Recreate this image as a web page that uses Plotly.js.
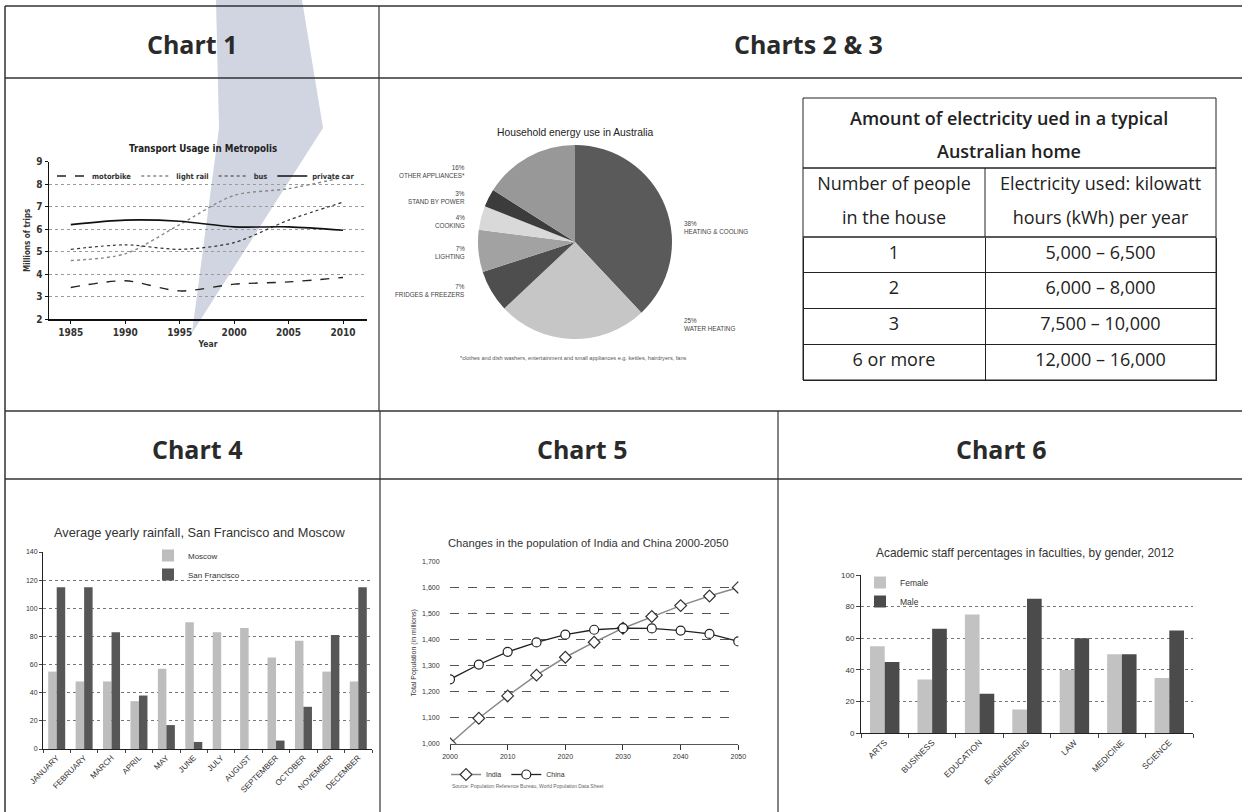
<!DOCTYPE html>
<html>
<head>
<meta charset="utf-8">
<script src="https://cdn.plot.ly/plotly-3.0.1.min.js"></script>
<style>
  html, body { margin: 0; padding: 0; background: #ffffff; }
  #chart { width: 1242px; height: 812px; }
</style>
</head>
<body>
<div id="chart"></div>
<script>
// ---------------- DATA ----------------
// Chart 1: Transport Usage in Metropolis (millions of trips)
const c1Years = [1985, 1990, 1995, 2000, 2005, 2010];
const c1Motorbike = [3.4, 3.7, 3.25, 3.55, 3.65, 3.85];
const c1LightRail = [4.6, 4.9, 6.2, 7.5, 7.8, 8.3];
const c1Bus = [5.1, 5.3, 5.1, 5.4, 6.4, 7.2];
const c1PrivateCar = [6.2, 6.4, 6.35, 6.1, 6.1, 5.95];
const c1SeriesNames = ['motorbike', 'light rail', 'bus', 'private car'];

// Chart 2: Household energy use in Australia (%)
const pieLabels = ['HEATING & COOLING', 'WATER HEATING', 'FRIDGES & FREEZERS', 'LIGHTING', 'COOKING', 'STAND BY POWER', 'OTHER APPLIANCES*'];
const pieValues = [38, 25, 7, 7, 4, 3, 16];
const pieFootnote = '*clothes and dish washers, entertainment and small appliances e.g. kettles, hairdryers, fans';

// Chart 3: table
const tableTitle = ['Amount of electricity ued in a typical', 'Australian home'];
const tableHeaders = [['Number of people', 'in the house'], ['Electricity used: kilowatt', 'hours (kWh) per year']];
const tablePeople = ['1', '2', '3', '6 or more'];
const tableKwh = ['5,000 – 6,500', '6,000 – 8,000', '7,500 – 10,000', '12,000 – 16,000'];

// Chart 4: Average yearly rainfall (mm)
const months = ['JANUARY', 'FEBRUARY', 'MARCH', 'APRIL', 'MAY', 'JUNE', 'JULY', 'AUGUST', 'SEPTEMBER', 'OCTOBER', 'NOVEMBER', 'DECEMBER'];
const rainMoscow = [55, 48, 48, 34, 57, 90, 83, 86, 65, 77, 55, 48];
const rainSanFrancisco = [115, 115, 83, 38, 17, 5, 0, 0, 6, 30, 81, 115];

// Chart 5: Population of India and China (millions)
const popYears = [2000, 2005, 2010, 2015, 2020, 2025, 2030, 2035, 2040, 2045, 2050];
const popIndia = [1000, 1098, 1184, 1264, 1333, 1391, 1445, 1490, 1532, 1569, 1602];
const popChina = [1248, 1305, 1354, 1390, 1420, 1439, 1445, 1444, 1436, 1423, 1394];
const popSource = 'Source: Population Reference Bureau, World Population Data Sheet';

// Chart 6: Academic staff percentages by gender, 2012
const faculties = ['ARTS', 'BUSINESS', 'EDUCATION', 'ENGINEERING', 'LAW', 'MEDICINE', 'SCIENCE'];
const staffFemale = [55, 34, 75, 15, 40, 50, 35];
const staffMale = [45, 66, 25, 85, 60, 50, 65];

// ---------------- LAYOUT HELPERS ----------------
const W = 1242, H = 812;
const px = x => x / W;
const py = y => 1 - y / H;
const SANS = 'Liberation Sans, Arial, sans-serif';
const NARROW = 'Liberation Sans Narrow, DejaVu Sans Condensed, Liberation Sans, sans-serif';
const HEAD = 'Open Sans, Noto Sans, sans-serif';
const INK = '#222222';

function ann(text, x, y, font, extra) {
  return Object.assign({
    text: text, x: px(x), y: py(y), xref: 'paper', yref: 'paper',
    showarrow: false, xanchor: 'center', yanchor: 'middle', font: font
  }, extra || {});
}
function line(x0, y0, x1, y1, color, width, dash) {
  return { type: 'line', xref: 'paper', yref: 'paper', x0: px(x0), y0: py(y0), x1: px(x1), y1: py(y1),
    line: { color: color, width: width, dash: dash || 'solid' } };
}
function rect(x0, y0, x1, y1, color, width) {
  return { type: 'rect', xref: 'paper', yref: 'paper', x0: px(x0), y0: py(y0), x1: px(x1), y1: py(y1),
    line: { color: color, width: width }, fillcolor: 'rgba(0,0,0,0)' };
}
function pathOf(points) {
  return points.map((p, i) => (i ? 'L ' : 'M ') + px(p[0]) + ',' + py(p[1])).join(' ') + ' Z';
}

// ---------------- TRACES ----------------
const traces = [];

// Chart 1
const c1Values = [c1Motorbike, c1LightRail, c1Bus, c1PrivateCar];
const c1Styles = [
  { color: '#222', dash: 'dash', width: 1.4 },
  { color: '#888', dash: 'dot', width: 1.4 },
  { color: '#333', dash: 'dot', width: 1.2 },
  { color: '#111', dash: 'solid', width: 1.6 }
];
c1Values.forEach((vals, i) => {
  traces.push({
    type: 'scatter', mode: 'lines', x: c1Years, y: vals, name: c1SeriesNames[i],
    line: Object.assign({ shape: 'spline', smoothing: 0.8 }, c1Styles[i]),
    xaxis: 'x', yaxis: 'y', legend: 'legend'
  });
});

// Chart 2 pie
const pieColors = ['#5a5a5a', '#c6c6c6', '#4e4e4e', '#a2a2a2', '#d9d9d9', '#3c3c3c', '#989898'];
traces.push({
  type: 'pie', labels: pieLabels, values: pieValues, sort: false, direction: 'clockwise', rotation: 0,
  textinfo: 'none', showlegend: false, hoverinfo: 'label+percent',
  marker: { colors: pieColors, line: { width: 0 } },
  domain: { x: [px(478), px(672)], y: [py(339), py(145)] }
});

// Chart 3 table (two header rows; outer header borders drawn as shapes)
const tableFont = { family: HEAD, size: 18, color: INK };
traces.push({
  type: 'table',
  domain: { x: [px(803), px(1216)], y: [py(381), py(168)] },
  columnwidth: [182, 231],
  header: {
    values: tableHeaders,
    height: 34.5, align: 'center',
    line: { color: '#ffffff', width: 1 }, fill: { color: '#ffffff' }, font: tableFont
  },
  cells: {
    values: [tablePeople, tableKwh],
    height: 35.75, align: 'center',
    line: { color: INK, width: 1 }, fill: { color: '#ffffff' }, font: tableFont
  }
});

// Chart 4
traces.push({
  type: 'bar', x: months, y: rainMoscow, name: 'Moscow', marker: { color: '#bdbdbd' },
  xaxis: 'x2', yaxis: 'y2', legend: 'legend2'
});
traces.push({
  type: 'bar', x: months, y: rainSanFrancisco, name: 'San Francisco', marker: { color: '#575757' },
  xaxis: 'x2', yaxis: 'y2', legend: 'legend2'
});

// Chart 5
traces.push({
  type: 'scatter', mode: 'lines+markers', x: popYears, y: popIndia, name: 'India',
  line: { color: '#8a8a8a', width: 1.5 },
  marker: { symbol: 'diamond', size: 9, color: '#ffffff', line: { color: '#333', width: 1.2 } },
  xaxis: 'x3', yaxis: 'y3', legend: 'legend3'
});
traces.push({
  type: 'scatter', mode: 'lines+markers', x: popYears, y: popChina, name: 'China',
  line: { color: '#222', width: 1.3 },
  marker: { symbol: 'circle', size: 9, color: '#ffffff', line: { color: '#222', width: 1.2 } },
  xaxis: 'x3', yaxis: 'y3', legend: 'legend3'
});

// Chart 6
traces.push({
  type: 'bar', x: faculties, y: staffFemale, name: 'Female', marker: { color: '#c2c2c2' },
  xaxis: 'x4', yaxis: 'y4', legend: 'legend4'
});
traces.push({
  type: 'bar', x: faculties, y: staffMale, name: 'Male', marker: { color: '#4b4b4b' },
  xaxis: 'x4', yaxis: 'y4', legend: 'legend4'
});

// ---------------- ANNOTATIONS ----------------
const annotations = [];
const headFont = { family: HEAD, size: 25, color: '#2a2a2a', weight: 700 };
annotations.push(ann('Chart 1', 192, 44, headFont));
annotations.push(ann('Charts 2 & 3', 808, 44, headFont));
annotations.push(ann('Chart 4', 197, 449, headFont));
annotations.push(ann('Chart 5', 582, 449, headFont));
annotations.push(ann('Chart 6', 1001, 449, headFont));

// chart titles
annotations.push(ann('Transport Usage in Metropolis', 203, 148, { family: NARROW, size: 9.7, color: INK, weight: 'bold' }));
annotations.push(ann('Household energy use in Australia', 575, 132, { family: SANS, size: 10.3, color: INK }));
annotations.push(ann('Average yearly rainfall, San Francisco and Moscow', 199, 532, { family: SANS, size: 12.8, color: '#333' }));
annotations.push(ann('Changes in the population of India and China 2000-2050', 588, 543, { family: SANS, size: 11.2, color: '#333' }));
annotations.push(ann('Academic staff percentages in faculties, by gender, 2012', 1025, 553, { family: SANS, size: 11.9, color: '#333' }));

// pie labels (text from data arrays, positions are layout)
const pieLabelPos = [
  [682, 227.5, 'left'], [682, 324.5, 'left'], [467, 290.5, 'right'], [467, 252.5, 'right'],
  [467, 221, 'right'], [467, 198, 'right'], [467, 171, 'right']
];
pieLabels.forEach((lab, i) => {
  const p = pieLabelPos[i];
  annotations.push(ann(pieValues[i] + '%<br>' + lab, p[0], p[1],
    { family: SANS, size: 6.3, color: '#444' }, { xanchor: p[2], align: p[2] }));
});
annotations.push(ann(pieFootnote, 573, 358, { family: SANS, size: 5.6, color: '#555' }));

// table title (one annotation per line)
const tableTitleY = [118, 151];
tableTitle.forEach((t, i) => {
  annotations.push(ann(t, 1009.5, tableTitleY[i], { family: HEAD, size: 18, color: INK, weight: 600 }));
});

// chart 5 source
annotations.push(ann(popSource, 450, 786, { family: SANS, size: 5, color: '#666' }, { xanchor: 'left' }));

// ---------------- SHAPES ----------------
const frame = '#333333';
const shapes = [
  // translucent wedge
  { type: 'path', xref: 'paper', yref: 'paper', layer: 'below',
    path: pathOf([[216, 0], [302, 0], [323, 128], [192, 333], [219, 128]]),
    fillcolor: '#d1d4e1', line: { width: 0 } },
  line(5, 6, 1242, 6, frame, 1.5),
  line(5, 78, 1242, 78, frame, 1.5),
  line(5, 411, 1242, 411, frame, 1.5),
  line(5, 479, 1242, 479, frame, 1.5),
  line(5, 6, 5, 812, frame, 1.5),
  line(379, 6, 379, 411, frame, 1.2),
  line(380, 411, 380, 812, frame, 1.2),
  line(778, 411, 778, 812, frame, 1.2),
  // table borders
  rect(803, 98, 1216, 168, INK, 1),
  rect(803, 168, 1216, 237, INK, 1),
  rect(803, 237, 1216, 380, INK, 1),
  line(985, 168, 985, 237, INK, 1)
];

// ---------------- AXES ----------------
const smallTick = (size, fam, weight) => ({ family: fam || SANS, size: size, color: '#333', weight: weight || 'normal' });

const layout = {
  width: W, height: H,
  margin: { l: 0, r: 0, t: 0, b: 0 },
  paper_bgcolor: '#ffffff', plot_bgcolor: 'rgba(0,0,0,0)',
  showlegend: true,
  barmode: 'group',
  bargap: 0.38,
  bargroupgap: 0,
  annotations: annotations,
  shapes: shapes,

  // Chart 1
  xaxis: {
    domain: [px(49), px(367)], anchor: 'y', range: [1983, 2012.2], tickvals: c1Years,
    showline: true, linecolor: '#111', linewidth: 1.5, ticks: 'outside', ticklen: 3, tickcolor: '#111',
    showgrid: false, zeroline: false, tickfont: smallTick(10, NARROW, 'bold'),
    title: { text: 'Year', font: smallTick(8.5, NARROW, 'bold'), standoff: 4 }
  },
  yaxis: {
    domain: [py(319), py(161.7)], anchor: 'x', range: [2, 9], dtick: 1,
    showline: true, linecolor: '#111', linewidth: 1.5, ticks: 'outside', ticklen: 3, tickcolor: '#111',
    showgrid: true, gridcolor: '#9a9a9a', griddash: 'dot', gridwidth: 1, zeroline: false,
    tickfont: smallTick(10, NARROW, 'bold'),
    title: { text: 'Millions of trips', font: smallTick(8, NARROW, 'bold'), standoff: 4 }
  },

  // Chart 4
  xaxis2: {
    domain: [px(43), px(372)], anchor: 'y2', type: 'category', tickangle: -45,
    showline: true, linecolor: '#222', linewidth: 1, ticks: 'outside', tickson: 'boundaries', ticklen: 3,
    showgrid: false, tickfont: smallTick(8)
  },
  yaxis2: {
    domain: [py(749), py(552)], anchor: 'x2', range: [0, 140], dtick: 20,
    showline: true, linecolor: '#222', linewidth: 1, ticks: 'outside', ticklen: 3,
    showgrid: true, gridcolor: '#777', griddash: 'dot', gridwidth: 1, zeroline: false,
    tickfont: smallTick(7)
  },

  // Chart 5
  xaxis3: {
    domain: [px(450), px(738.3)], anchor: 'y3', range: [2000, 2050], dtick: 10,
    showline: true, linecolor: '#555', linewidth: 1.5, ticks: 'outside', ticklen: 5, tickcolor: '#333',
    showgrid: false, zeroline: false, tickfont: smallTick(7)
  },
  yaxis3: {
    domain: [py(743.7), py(562)], anchor: 'x3', range: [1000, 1700], dtick: 100, tickformat: ',',
    showline: false, ticks: 'outside', ticklen: 8, tickcolor: 'rgba(0,0,0,0)',
    showgrid: true, gridcolor: '#555', griddash: 'dash', gridwidth: 1, zeroline: false,
    tickfont: smallTick(7),
    title: { text: 'Total Population (in millions)', font: smallTick(7), standoff: 4 }
  },

  // Chart 6
  xaxis4: {
    domain: [px(861), px(1193)], anchor: 'y4', type: 'category', tickangle: -45,
    showline: true, linecolor: '#222', linewidth: 1, ticks: 'outside', tickson: 'boundaries', ticklen: 4,
    showgrid: false, tickfont: smallTick(8.5)
  },
  yaxis4: {
    domain: [py(733.3), py(575)], anchor: 'x4', range: [0, 100], dtick: 20,
    showline: true, linecolor: '#222', linewidth: 1, ticks: 'outside', ticklen: 4,
    showgrid: true, gridcolor: '#777', griddash: 'dot', gridwidth: 1, zeroline: false,
    tickfont: smallTick(8)
  },

  legend: {
    x: px(52), y: py(176), xanchor: 'left', yanchor: 'middle', orientation: 'h',
    font: smallTick(7.5, NARROW, 'bold'), bgcolor: 'rgba(0,0,0,0)', itemwidth: 30
  },
  legend2: {
    x: px(148), y: py(541), xanchor: 'left', yanchor: 'top', orientation: 'v',
    font: smallTick(8), bgcolor: 'rgba(0,0,0,0)', itemwidth: 30, tracegroupgap: 0
  },
  legend3: {
    x: px(446), y: py(760), xanchor: 'left', yanchor: 'top', orientation: 'h',
    font: smallTick(7), bgcolor: 'rgba(0,0,0,0)', itemwidth: 30
  },
  legend4: {
    x: px(860), y: py(568), xanchor: 'left', yanchor: 'top', orientation: 'v',
    font: smallTick(8.5), bgcolor: 'rgba(0,0,0,0)', itemwidth: 30
  }
};

Plotly.newPlot('chart', traces, layout, { displayModeBar: false, staticPlot: true });
</script>
</body>
</html>
